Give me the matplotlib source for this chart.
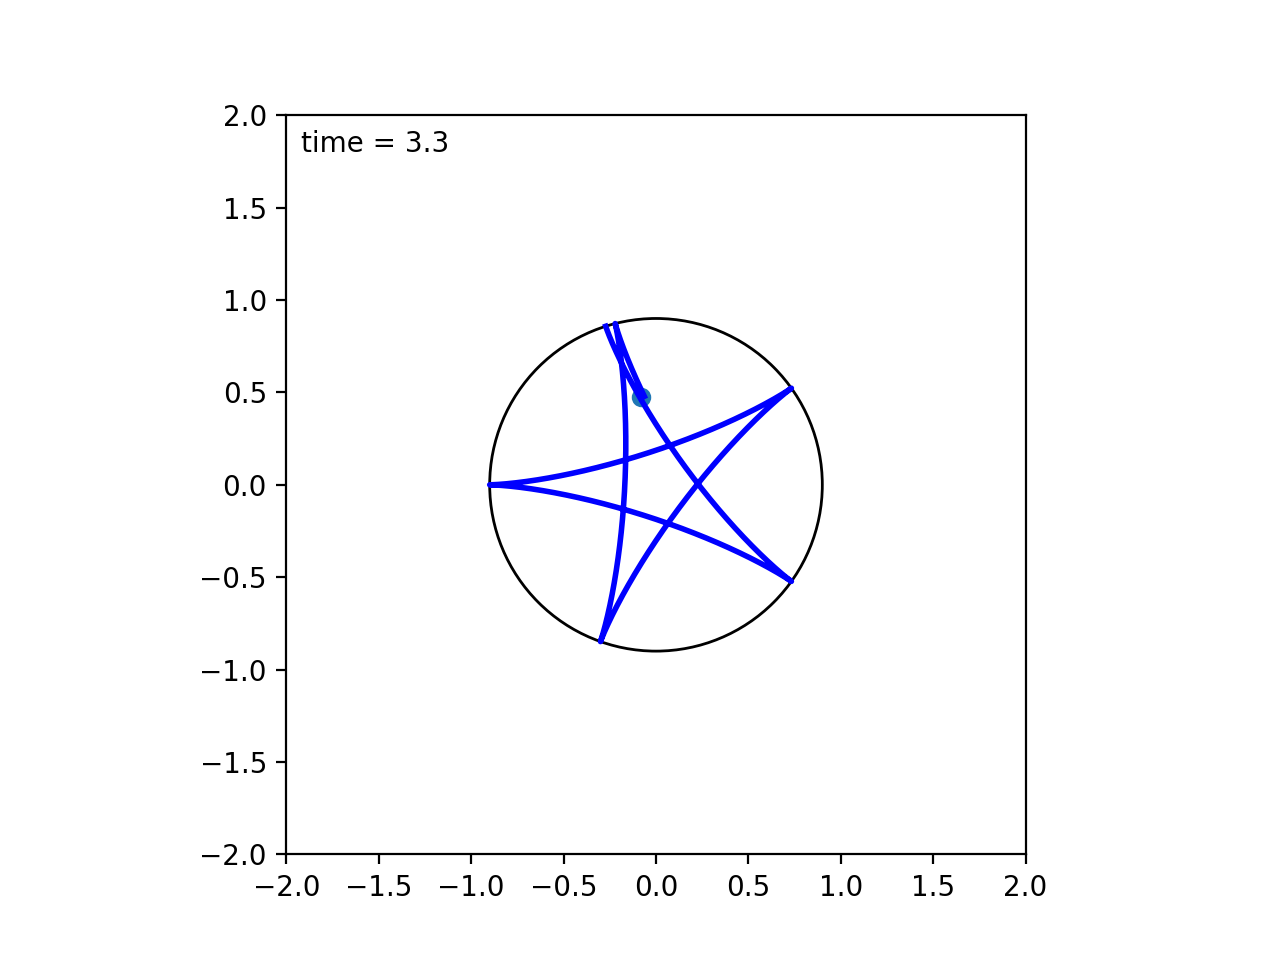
import numpy as np
import matplotlib.pyplot as plt
from matplotlib.patches import Circle

# values
circle_radius = 0.9
# cusp angles (deg) in the order the trail visits them, clockwise
cusp_angles = [107.6, -35.5, -180.0, -324.5, -469.5, -615.8]
tail_span = 144.7        # span of the last, unfinished arc
tail_fraction = 0.33     # how much of it is drawn
dot_x, dot_y = -0.08, 0.475
time_value = 3.3
ticks = [-2.0, -1.5, -1.0, -0.5, 0.0, 0.5, 1.0, 1.5, 2.0]


def arc(R, start_deg, span_deg, fraction=1.0, n=400):
    # one cusp-to-cusp arc of a hypocycloid, traced clockwise
    k = 360.0 / span_deg
    r = R / k
    theta = np.linspace(0, np.radians(span_deg) * fraction, n)
    z = (R - r) * np.exp(-1j * theta) + r * np.exp(1j * (R - r) / r * theta)
    z = z * np.exp(1j * np.radians(start_deg))
    return z.real, z.imag


if __name__ == '__main__':
    fig, ax = plt.subplots(figsize=(6.4, 4.8), dpi=200)

    xs, ys = [], []
    for a0, a1 in zip(cusp_angles[:-1], cusp_angles[1:]):
        x, y = arc(circle_radius, a0, a0 - a1)
        xs.append(x)
        ys.append(y)
    x, y = arc(circle_radius, cusp_angles[-1], tail_span, tail_fraction)
    xs.append(x)
    ys.append(y)
    x = np.concatenate(xs)
    y = np.concatenate(ys)

    ax.add_patch(Circle((0, 0), circle_radius, fill=False, color='black', lw=1.0))
    ax.plot([dot_x], [dot_y], 'o')
    ax.plot(x, y, 'b-', lw=2)
    ax.text(0.02, 0.95, 'time = %.1f' % time_value, transform=ax.transAxes)

    ax.set_xlim(-2, 2)
    ax.set_ylim(-2, 2)
    ax.set_xticks(ticks)
    ax.set_yticks(ticks)
    ax.set_aspect('equal')

    fig.savefig('out.png')
